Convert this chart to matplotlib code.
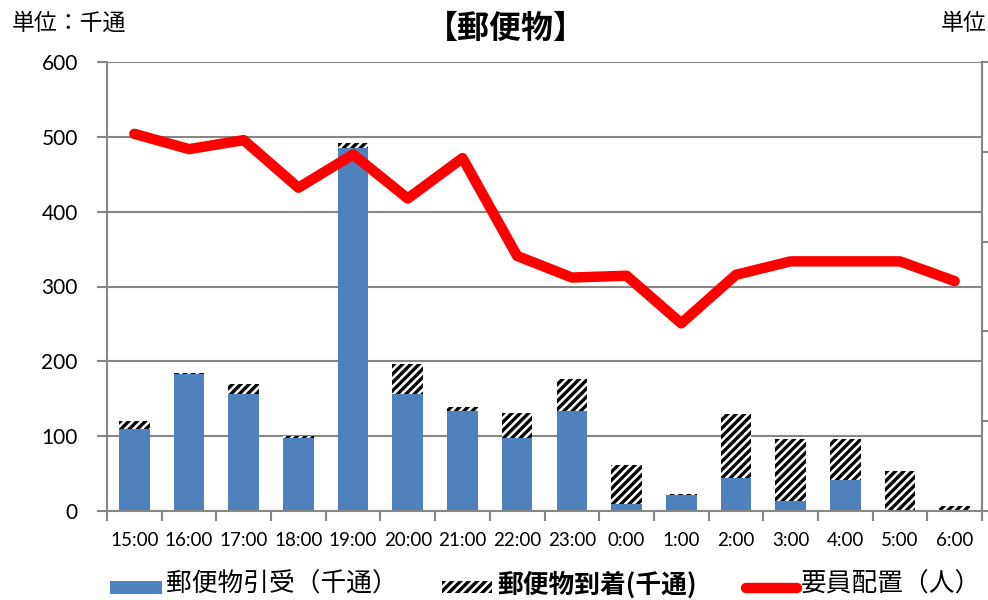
import matplotlib
matplotlib.use("Agg")
import matplotlib.pyplot as plt
import numpy as np
from matplotlib.patches import Rectangle
from matplotlib.lines import Line2D

plt.rcParams['font.family'] = ['Lato', 'Noto Sans CJK JP', 'DejaVu Sans']
plt.rcParams['hatch.linewidth'] = 2.4

categories = ["15:00", "16:00", "17:00", "18:00", "19:00", "20:00", "21:00", "22:00",
              "23:00", "0:00", "1:00", "2:00", "3:00", "4:00", "5:00", "6:00"]
hikiuke = [110, 183, 156, 97, 485, 156, 133, 98, 134, 9, 22, 44, 13, 42, 0, 0]
tochaku = [10, 2, 14, 3, 7, 40, 6, 33, 43, 52, 1, 86, 83, 54, 54, 7]
yoin = [42, 40.3, 41.3, 36, 39.7, 34.8, 39.3, 28.4, 26, 26.2, 20.9, 26.3, 27.8, 27.8, 27.8, 25.6]

W, H = 988, 600
fig = plt.figure(figsize=(W / 100, H / 100), dpi=100)
L, R, T, B = 107, 982, 62, 511
ax = fig.add_axes([L / W, 1 - B / H, (R - L) / W, (B - T) / H])

x = np.arange(len(categories))
blue = '#4F81BD'
grid = '#868686'

ax.bar(x, hikiuke, width=0.56, color=blue, linewidth=0, zorder=2)
ax.bar(x, tochaku, width=0.56, bottom=hikiuke, facecolor='white', edgecolor='black',
       hatch='////', linewidth=0, zorder=2)

ax.set_xlim(-0.5, len(categories) - 0.5)
ax.set_ylim(0, 600)
ax.set_yticks(np.arange(0, 601, 100))
ax.yaxis.grid(True, color=grid, linewidth=1.5, zorder=0)
ax.set_axisbelow(True)
ax.set_xticks(x)
ax.set_xticklabels(categories, fontsize=13.5)
ax.set_xticks(np.arange(-0.5, len(categories), 1), minor=True)
ax.tick_params(axis='x', which='major', length=0, pad=15)
ax.tick_params(axis='x', which='minor', length=7, width=1.5, color=grid)
ax.tick_params(axis='y', labelsize=15, length=7, width=1.5, color=grid, pad=14)
ax.spines['top'].set_visible(False)
for s in ['left', 'bottom', 'right']:
    ax.spines[s].set_color(grid)
    ax.spines[s].set_linewidth(1.5)

ax2 = ax.twinx()
ax2.plot(x, yoin, color='#FF0000', linewidth=7.5, solid_capstyle='round',
         solid_joinstyle='round', zorder=5)
ax2.set_ylim(0, 50)
ax2.set_yticks(np.arange(0, 51, 10))
ax2.tick_params(axis='y', length=7, width=1.5, color=grid, labelright=False)
for s in ['top', 'left', 'bottom']:
    ax2.spines[s].set_visible(False)
ax2.spines['right'].set_color(grid)
ax2.spines['right'].set_linewidth(1.5)

fig.text(506 / W, 1 - 29 / H, "【郵便物】", fontsize=23, fontweight='bold',
         ha='center', va='center', family=['Noto Sans CJK JP'])
fig.text(12 / W, 1 - 23 / H, "単位：千通", fontsize=16.5, ha='left', va='center',
         family=['Noto Sans CJK JP'])
fig.text(987 / W, 1 - 23 / H, "単位", fontsize=16.5, ha='right', va='center',
         family=['Noto Sans CJK JP'])

# legend
ly = 585
fs = 18.5
fig.patches.append(Rectangle((110 / W, 1 - 594 / H), 52 / W, 13 / H,
                             transform=fig.transFigure, facecolor=blue, linewidth=0))
fig.text(166 / W, 1 - ly / H, "郵便物引受（千通）", fontsize=fs, ha='left', va='center',
         family=['Noto Sans CJK JP'])
fig.patches.append(Rectangle((442 / W, 1 - 593 / H), 50 / W, 12 / H,
                             transform=fig.transFigure, facecolor='white',
                             edgecolor='black', hatch='////', linewidth=0))
fig.text(497 / W, 1 - ly / H, "郵便物到着(千通)", fontsize=fs, fontweight='bold',
         ha='left', va='center', family=['Noto Sans CJK JP'])
fig.lines.append(Line2D([746 / W, 797 / W], [1 - 588 / H, 1 - 588 / H],
                        transform=fig.transFigure, color='#FF0000', linewidth=7.5,
                        solid_capstyle='round'))
fig.text(801 / W, 1 - ly / H, "要員配置（人）", fontsize=fs, ha='left', va='center',
         family=['Noto Sans CJK JP'])

fig.savefig("out.png", dpi=100)
